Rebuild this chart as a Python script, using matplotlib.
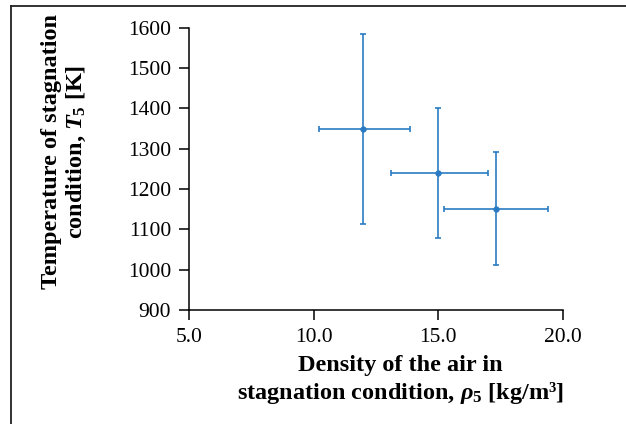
import numpy as np
import matplotlib
matplotlib.use("Agg")
import matplotlib.pyplot as plt
from matplotlib.lines import Line2D

# density of the air in stagnation condition [kg/m3] and its spread
density = [12.0, 15.0, 17.3]
density_lo = [10.2, 13.1, 15.25]
density_hi = [13.85, 17.0, 19.4]

# temperature of stagnation condition [K] and its spread
temperature = [1348, 1240, 1151]
temperature_lo = [1112, 1079, 1012]
temperature_hi = [1584, 1401, 1292]

x_ticks = [5.0, 10.0, 15.0, 20.0]
y_ticks = [900, 1000, 1100, 1200, 1300, 1400, 1500, 1600]

plt.rcParams['font.family'] = ['Liberation Serif', 'DejaVu Serif']
plt.rcParams['mathtext.fontset'] = 'custom'
plt.rcParams['mathtext.rm'] = 'Liberation Serif:bold'
plt.rcParams['mathtext.it'] = 'Liberation Serif:italic:bold'
plt.rcParams['mathtext.bf'] = 'Liberation Serif:bold'

fig = plt.figure(figsize=(6.26, 4.24), dpi=100)
ax = fig.add_axes([0.302, 0.269, 0.597, 0.666])

x = np.array(density)
y = np.array(temperature)
xerr = [x - np.array(density_lo), np.array(density_hi) - x]
yerr = [y - np.array(temperature_lo), np.array(temperature_hi) - y]

ax.errorbar(x, y, xerr=xerr, yerr=yerr, fmt='o', color='#2a7bc4',
            markersize=3.5, elinewidth=1.2, capsize=2, capthick=1.2)

ax.set_xlim(5, 20)
ax.set_ylim(900, 1600)
ax.set_xticks(x_ticks)
ax.set_xticklabels([f"{t:.1f}" for t in x_ticks])
ax.set_yticks(y_ticks)
ax.set_yticklabels([str(t) for t in y_ticks])

for s in ['top', 'right']:
    ax.spines[s].set_visible(False)
for s in ['left', 'bottom']:
    ax.spines[s].set_linewidth(1.1)
ax.tick_params(direction='out', length=7, width=1.1, labelsize=15.5)
ax.tick_params(axis='y', pad=6)
ax.tick_params(axis='x', pad=6)

# axis titles
fig.text(0.639, 0.103, "Density of the air in\nstagnation condition, $\\rho_5$ [kg/m³]",
         ha='center', va='center', fontsize=17.5, fontweight='bold',
         multialignment='center', linespacing=1.2)
fig.text(0.103, 0.642, "Temperature of stagnation\ncondition, $T_5$ [K]",
         ha='center', va='center', rotation=90, fontsize=17.5,
         fontweight='bold', multialignment='center', linespacing=1.2)

# frame lines around the panel
fig.add_artist(Line2D([0.018, 0.018], [0.0, 0.987], transform=fig.transFigure,
                      color='#222222', lw=1.3))
fig.add_artist(Line2D([0.018, 1.0], [0.987, 0.987], transform=fig.transFigure,
                      color='#222222', lw=1.3))

fig.savefig("out.png", dpi=100)
